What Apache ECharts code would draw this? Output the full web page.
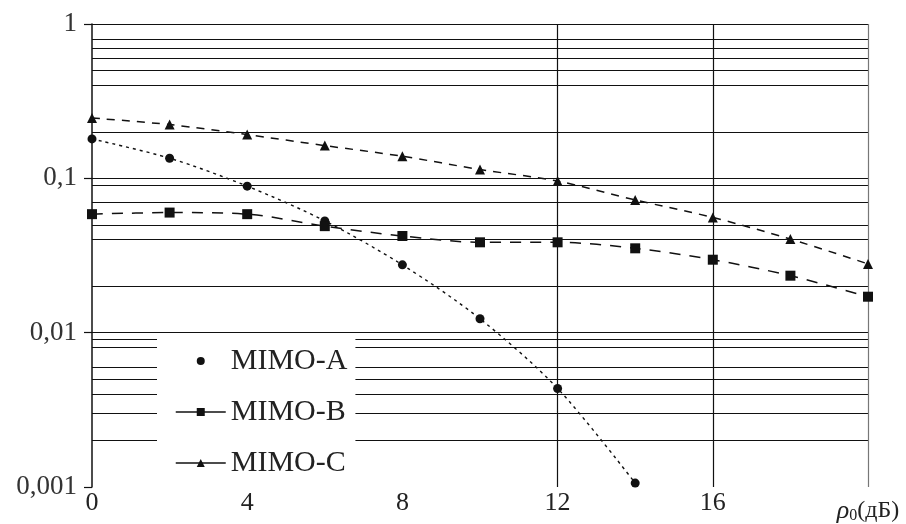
<!DOCTYPE html>
<html>
<head>
<meta charset="utf-8">
<script src="https://cdn.jsdelivr.net/npm/echarts@6/dist/echarts.min.js"></script>
<style>
  html, body { margin: 0; padding: 0; background: #fff; }
  #chart { width: 906px; height: 524px; }
</style>
</head>
<body>
<div id="chart"></div>
<script>
// Signal-to-noise ratio, dB
const xValues = [0, 2, 4, 6, 8, 10, 12, 14, 16, 18, 20];

// Error probability for the three MIMO schemes
const mimoA = [0.18, 0.135, 0.089, 0.053, 0.0275, 0.0123, 0.00435, 0.00106];
const mimoB = [0.0586, 0.060, 0.0586, 0.049, 0.0423, 0.0385, 0.0385, 0.0352, 0.0297, 0.0234, 0.0171];
const mimoC = [0.246, 0.223, 0.192, 0.163, 0.139, 0.114, 0.096, 0.0724, 0.0558, 0.0404, 0.0279];

const seriesNames = ['MIMO-A', 'MIMO-B', 'MIMO-C'];

// Axis labels
const yTickLabels = { '-3': '0,001', '-2': '0,01', '-1': '0,1', '0': '1' };
const xTickLabels = { 0: '0', 4: '4', 8: '8', 12: '12', 16: '16' };

// Ruled lines of the chart paper
const hGridValues = [0.002, 0.003, 0.004, 0.005, 0.006, 0.008, 0.009, 0.01,
                     0.02, 0.04, 0.05, 0.07, 0.09, 0.1,
                     0.2, 0.4, 0.5, 0.6, 0.7, 0.8, 1];
const vGridValues = [12, 16];
const xEnd = 20;

const pairs = (vals) => vals.map((v, i) => [xValues[i], v]);

const serif = 'Liberation Serif';

const chart = echarts.init(document.getElementById('chart'), null, { renderer: 'canvas' });

const gridLines = hGridValues.map(v => ({ yAxis: v }))
  .concat(vGridValues.map(v => ({ xAxis: v })))
  .concat([{ xAxis: xEnd, lineStyle: { color: '#777', width: 1.2, type: 'solid' } }]);

chart.setOption({
  animation: false,
  backgroundColor: '#fff',
  grid: { left: 92, right: 38, top: 24, bottom: 36 },
  xAxis: {
    type: 'value',
    min: 0, max: 20, interval: 4,
    axisLine: { show: false },
    axisTick: { show: false },
    splitLine: { show: false },
    axisLabel: {
      margin: 3,
      fontFamily: serif, fontSize: 26, color: '#222',
      showMaxLabel: true,
      formatter: (v) => v === 20 ? '{r|ρ}{s|0}{t|(дБ)}' : (xTickLabels[v] ?? ''),
      rich: {
        r: { fontFamily: serif, fontStyle: 'italic', fontSize: 26, color: '#222', padding: [8, 0, 0, 0] },
        s: { fontFamily: serif, fontSize: 16, color: '#222', padding: [18, 0, 0, 0] },
        t: { fontFamily: serif, fontSize: 24, color: '#222', padding: [8, 0, 0, 0] }
      }
    }
  },
  yAxis: {
    type: 'log', logBase: 10,
    min: 0.001, max: 1,
    axisLine: { show: true, lineStyle: { color: '#111', width: 1.5 } },
    axisTick: { show: true, length: 8, lineStyle: { color: '#111', width: 1.2 } },
    splitLine: { show: false },
    axisLabel: {
      margin: 15,
      fontFamily: serif, fontSize: 27, color: '#333',
      formatter: (v) => yTickLabels[String(Math.round(Math.log10(v)))] ?? ''
    }
  },
  legend: {
    orient: 'vertical',
    left: 157, top: 336,
    z: 10,
    padding: [10, 8, 14, 18],
    itemWidth: 50, itemHeight: 10, itemGap: 21,
    backgroundColor: '#fff',
    lineStyle: { type: 'solid', width: 1.5, color: '#111' },
    textStyle: { fontFamily: serif, fontSize: 30, color: '#222', lineHeight: 30 },
    data: [
      { name: seriesNames[0], lineStyle: { opacity: 0 } },
      seriesNames[1],
      seriesNames[2]
    ]
  },
  series: [
    {
      name: 'paper',
      type: 'line',
      data: [],
      silent: true,
      z: 1,
      markLine: {
        silent: true,
        z: 1,
        precision: 6,
        symbol: 'none',
        label: { show: false },
        lineStyle: { color: '#111', width: 1.2, type: 'solid' },
        data: gridLines
      }
    },
    {
      name: seriesNames[0],
      type: 'line',
      data: pairs(mimoA),
      smooth: 0.3,
      symbol: 'circle', symbolSize: 9,
      itemStyle: { color: '#111' },
      lineStyle: { color: '#111', width: 1.4, type: [3, 4] },
      z: 3
    },
    {
      name: seriesNames[1],
      type: 'line',
      data: pairs(mimoB),
      smooth: 0.3,
      symbol: 'rect', symbolSize: 10,
      itemStyle: { color: '#111' },
      lineStyle: { color: '#111', width: 1.5, type: [11, 9] },
      z: 3
    },
    {
      name: seriesNames[2],
      type: 'line',
      data: pairs(mimoC),
      smooth: 0.3,
      symbol: 'triangle', symbolSize: 10,
      itemStyle: { color: '#111' },
      lineStyle: { color: '#111', width: 1.5, type: [8, 7] },
      z: 3
    }
  ]
});
</script>
</body>
</html>
